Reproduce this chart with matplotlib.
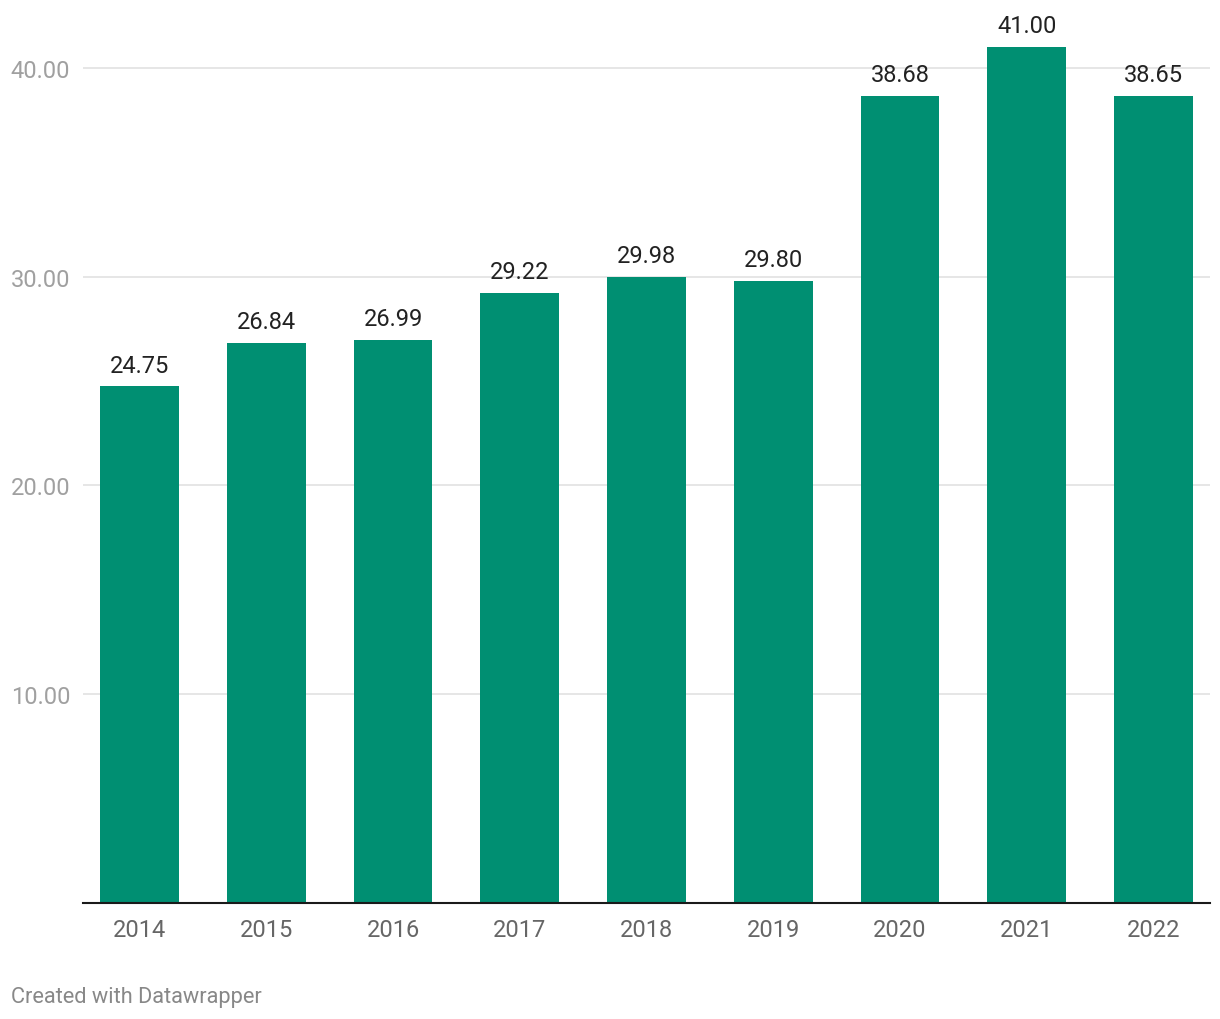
import matplotlib
matplotlib.use("Agg")
import matplotlib.pyplot as plt

years = ["2014", "2015", "2016", "2017", "2018", "2019", "2020", "2021", "2022"]
values = [24.75, 26.84, 26.99, 29.22, 29.98, 29.80, 38.68, 41.00, 38.65]
yticks = [10, 20, 30, 40]
ytick_labels = ["10.00", "20.00", "30.00", "40.00"]

plt.rcParams['font.family'] = ['Roboto', 'DejaVu Sans']

W, H = 1220, 1020
fig = plt.figure(figsize=(W / 100, H / 100), dpi=100)
left, right = 83, 1210
base, top = 903.8, 20
ax = fig.add_axes([left / W, (H - base) / H, (right - left) / W, (base - top) / H])

bar_color = "#008f72"
x = list(range(len(years)))
bars = ax.bar(x, values, width=0.623, color=bar_color, zorder=3)

ax.set_xlim(-0.446, len(years) - 1 + 0.446)
ax.set_ylim(0, (base - top) / 20.87)

ax.set_yticks(yticks)
ax.set_yticklabels(ytick_labels)
ax.grid(axis="y", color="#e2e2e2", linewidth=1.2, zorder=0)
ax.tick_params(axis="y", length=0, pad=52, labelsize=17, labelcolor="#a0a0a0")
for lbl in ax.get_yticklabels():
    lbl.set_horizontalalignment("left")

ax.set_xticks(x)
ax.set_xticklabels(years)
ax.tick_params(axis="x", length=0, pad=11.2, labelsize=17, labelcolor="#666666")

for s in ["top", "right", "left"]:
    ax.spines[s].set_visible(False)
ax.spines["bottom"].set_color("#1a1a1a")
ax.spines["bottom"].set_linewidth(1.5)
ax.spines["bottom"].set_zorder(4)

for xi, v in zip(x, values):
    ax.annotate(f"{v:.2f}", (xi, v), xytext=(0, 7), textcoords="offset points",
                ha="center", va="bottom", fontsize=17, color="#222222")

fig.text(11 / W, 1 - 998 / H, "Created with Datawrapper", ha="left", va="center",
         fontsize=15.7, color="#888888")

fig.savefig("out.png", dpi=100)
